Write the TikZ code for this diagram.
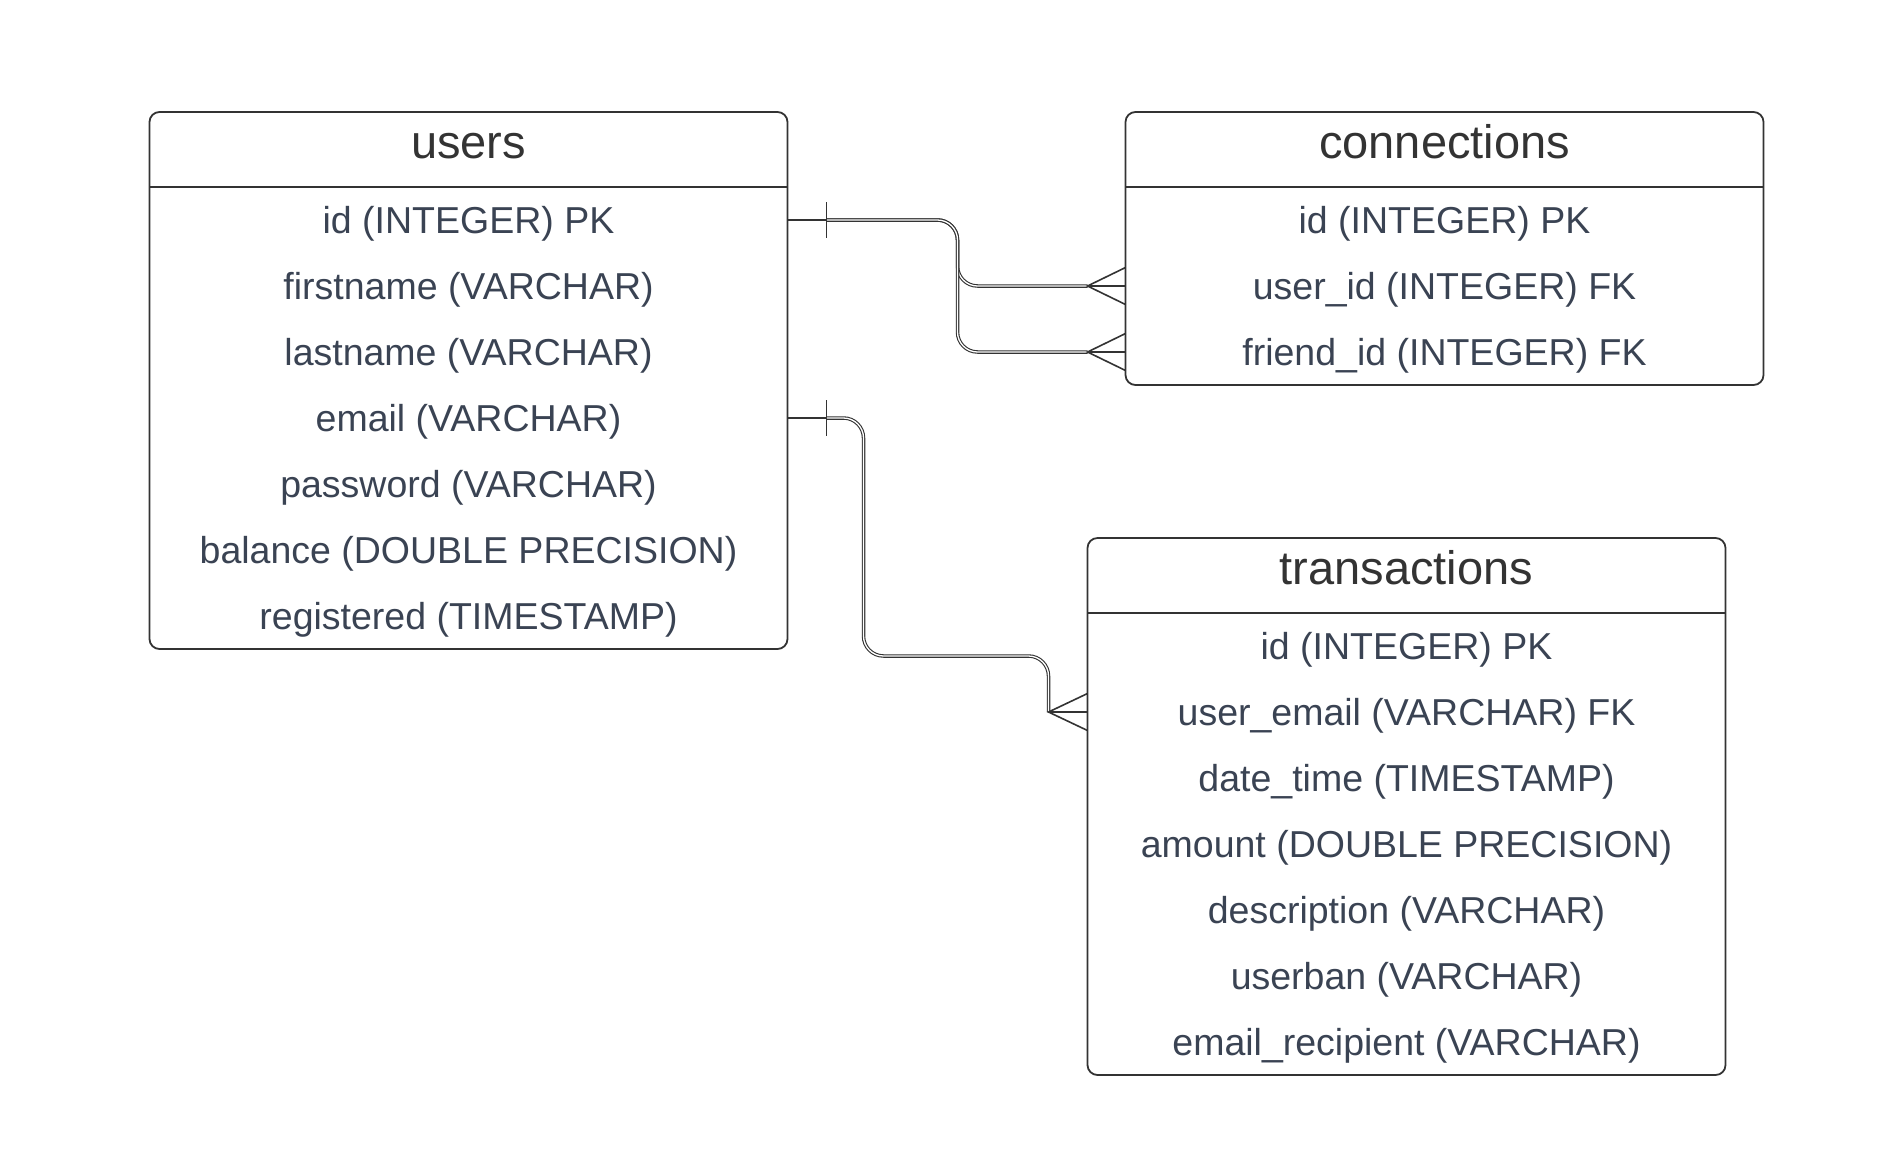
\documentclass[tikz,border=0pt]{standalone}
\usepackage{fontspec}
\setmainfont{Liberation Sans}
\usetikzlibrary{positioning,calc}

\definecolor{erline}{HTML}{333333}
\definecolor{ertext}{HTML}{3A4353}

\tikzset{
	tablehead/.style={minimum width=319pt,minimum height=37.5pt,inner sep=0pt,outer sep=0pt,text height=9.4pt,text depth=0pt,text=erline,font=\fontsize{23.5}{27}\selectfont},
	fieldrow/.style={minimum width=319pt,minimum height=33pt,inner sep=0pt,outer sep=0pt,text height=13pt,text depth=0pt,text=ertext,font=\fontsize{18.75}{22}\selectfont},
	tableframe/.style={draw=erline,line width=0.9pt,rounded corners=5pt},
	relline/.style={draw=erline,double,double distance=0.65pt,line width=0.55pt,rounded corners=10pt},
	crowline/.style={draw=erline,line width=0.8pt}
}

\begin{document}
\begin{tikzpicture}[x=0.5pt,y=-0.5pt,node distance=0pt]

	\useasboundingbox (0,0) rectangle (1877,1163);

	% users
	\node [tablehead] at (468.5,149.5)			(users)			{users};
	\node [fieldrow, below=of users]			(users-id)		{id (INTEGER) PK};
	\node [fieldrow, below=of users-id]			(users-first)	{firstname (VARCHAR)};
	\node [fieldrow, below=of users-first]		(users-last)	{lastname (VARCHAR)};
	\node [fieldrow, below=of users-last]		(users-email)	{email (VARCHAR)};
	\node [fieldrow, below=of users-email]		(users-pass)	{password (VARCHAR)};
	\node [fieldrow, below=of users-pass]		(users-bal)		{balance (DOUBLE PRECISION)};
	\node [fieldrow, below=of users-bal]		(users-reg)		{registered (TIMESTAMP)};

	% connections
	\node [tablehead] at (1444.5,149.5)			(conn)			{connections};
	\node [fieldrow, below=of conn]				(conn-id)		{id (INTEGER) PK};
	\node [fieldrow, below=of conn-id]			(conn-user)		{user\_id (INTEGER) FK};
	\node [fieldrow, below=of conn-user]		(conn-friend)	{friend\_id (INTEGER) FK};

	% transactions
	\node [tablehead] at (1406.5,575.5)			(trans)			{transactions};
	\node [fieldrow, below=of trans]			(trans-id)		{id (INTEGER) PK};
	\node [fieldrow, below=of trans-id]			(trans-email)	{user\_email (VARCHAR) FK};
	\node [fieldrow, below=of trans-email]		(trans-date)	{date\_time (TIMESTAMP)};
	\node [fieldrow, below=of trans-date]		(trans-amount)	{amount (DOUBLE PRECISION)};
	\node [fieldrow, below=of trans-amount]		(trans-desc)	{description (VARCHAR)};
	\node [fieldrow, below=of trans-desc]		(trans-iban)	{userban (VARCHAR)};
	\node [fieldrow, below=of trans-iban]		(trans-recip)	{email\_recipient (VARCHAR)};

	% frames
	\draw [tableframe] (users.north west) rectangle (users-reg.south east);
	\draw [crowline] (users.south west) -- (users.south east);
	\draw [tableframe] (conn.north west) rectangle (conn-friend.south east);
	\draw [crowline] (conn.south west) -- (conn.south east);
	\draw [tableframe] (trans.north west) rectangle (trans-recip.south east);
	\draw [crowline] (trans.south west) -- (trans.south east);

	% relation ends
	\coordinate (one-id)		at ($(users-id.east)+(39,0)$);
	\coordinate (one-email)		at ($(users-email.east)+(39,0)$);
	\coordinate (many-user)		at ($(conn-user.west)+(-38,0)$);
	\coordinate (many-friend)	at ($(conn-friend.west)+(-38,0)$);
	\coordinate (many-email)	at ($(trans-email.west)+(-39,0)$);

	\path [relline] (one-id) -- ++(131,0) |- (many-user);
	\path [relline] (one-id) -- ++(131,0) |- (many-friend);
	\path [relline] (one-email) -- ++(37,0) |- ($(many-email)+(0,-56)$) -- (many-email);

	% one
	\draw [crowline] (users-id.east) -- (one-id) ++(0,-18) -- ++(0,36);
	\draw [crowline] (users-email.east) -- (one-email) ++(0,-18) -- ++(0,36);

	% many
	\draw [crowline] ($(conn-user.west)+(0,-18.5)$) -- (many-user) -- ($(conn-user.west)+(0,18.5)$)
				(many-user) -- (conn-user.west);
	\draw [crowline] ($(conn-friend.west)+(0,-18.5)$) -- (many-friend) -- ($(conn-friend.west)+(0,18.5)$)
				(many-friend) -- (conn-friend.west);
	\draw [crowline] ($(trans-email.west)+(0,-18.5)$) -- (many-email) -- ($(trans-email.west)+(0,18.5)$)
				(many-email) -- (trans-email.west);

\end{tikzpicture}
\end{document}
